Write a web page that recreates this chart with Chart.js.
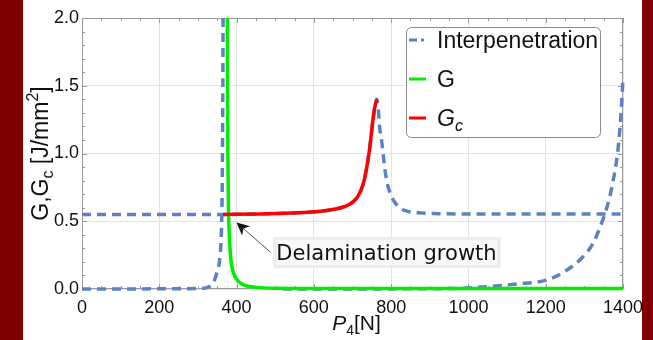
<!DOCTYPE html>
<html>
<head>
<meta charset="utf-8">
<title>Energy release rate vs load</title>
<script src="https://cdn.jsdelivr.net/npm/chart.js"></script>
<style>
  body { margin: 0; background: #fff; }
  #wrap { width: 653px; height: 340px; }
</style>
</head>
<body>
<div id="wrap"><canvas id="chart" width="653" height="340"></canvas></div>
<script>
  // Interpenetration: three branches, drawn as one dashed series with gaps between them
  const interpLowP  = [0, 300, 323, 340, 349, 357, 361, 363, 364.5, 365.5];
  const interpLowG  = [0, 0.003, 0.01, 0.05, 0.12, 0.24, 0.45, 0.8, 1.5, 2.5];
  const interpPeakP = [0, 365, 460, 560, 610, 645, 670, 688, 702, 713, 722, 730, 737, 745, 753, 759, 763, 766, 770, 776, 784, 790, 797, 805, 815, 828, 841, 870, 920, 1000, 1400];
  const interpPeakG = [0.55, 0.55, 0.554, 0.562, 0.572, 0.585, 0.6, 0.618, 0.645, 0.68, 0.73, 0.8, 0.9, 1.05, 1.25, 1.36, 1.4, 1.35, 1.2, 1.08, 0.88, 0.78, 0.71, 0.66, 0.62, 0.59, 0.575, 0.562, 0.556, 0.554, 0.553];
  const interpHighP = [520, 950, 996, 1060, 1134, 1203, 1255, 1297, 1323, 1345, 1358, 1371, 1387, 1395, 1400];
  const interpHighG = [0, 0.003, 0.007, 0.02, 0.04, 0.066, 0.14, 0.24, 0.34, 0.49, 0.6, 0.75, 1.03, 1.3, 1.55];

  // G
  const gP = [375.5, 376.5, 377.5, 379, 381, 383, 386, 390, 396, 405, 415, 430, 450, 500, 600, 1400];
  const gG = [2.5, 1.6, 1.0, 0.6, 0.42, 0.3, 0.2, 0.14, 0.09, 0.055, 0.035, 0.02, 0.012, 0.006, 0.004, 0.003];

  // Gc
  const gcP = [365, 460, 560, 610, 645, 670, 688, 702, 713, 722, 730, 737, 745, 753, 759, 763];
  const gcG = [0.55, 0.554, 0.562, 0.572, 0.585, 0.6, 0.618, 0.645, 0.68, 0.73, 0.8, 0.9, 1.05, 1.25, 1.36, 1.4];

  const xTickStep = 200, xMinorStep = 50;
  const yTickStep = 0.5, yMinorStep = 0.1;

  // annotation anchors, in data units
  const noteText = 'Delamination growth';
  const noteAt = { p: 503, g: 0.265 };
  const arrowTip = { p: 400, g: 0.49 };

  function pts(xs, ys) {
    return xs.map((x, i) => ({ x: x, y: ys[i] }));
  }
  function gap(xs) {
    return { x: xs[xs.length - 1], y: null };
  }

  const interpData = [].concat(
    pts(interpLowP, interpLowG), [gap(interpLowP)],
    pts(interpPeakP, interpPeakG), [gap(interpPeakP)],
    pts(interpHighP, interpHighG)
  );

  const BLUE = '#5b83c4', GREEN = '#00ee00', RED = '#ff0000';
  const FRAME = '#9a9a9a';
  const SANS = '"Liberation Sans", Arial, sans-serif';

  // draw text made of runs: {t, size, italic, shift}
  function runsWidth(ctx, runs) {
    let w = 0;
    runs.forEach(r => {
      ctx.font = (r.italic ? 'italic ' : '') + r.size + 'px ' + SANS;
      w += ctx.measureText(r.t).width;
    });
    return w;
  }
  function drawRuns(ctx, runs, x, y) {
    runs.forEach(r => {
      ctx.font = (r.italic ? 'italic ' : '') + r.size + 'px ' + SANS;
      ctx.fillText(r.t, x, y + (r.shift || 0));
      x += ctx.measureText(r.t).width;
    });
  }

  const pagePlugin = {
    id: 'page',
    beforeDraw(chart) {
      const ctx = chart.ctx;
      ctx.save();
      ctx.fillStyle = '#fff';
      ctx.fillRect(0, 0, chart.width, chart.height);
      ctx.fillStyle = '#800000';
      ctx.fillRect(0, 0, 23, chart.height);
      ctx.fillRect(642, 0, chart.width - 642, chart.height);
      ctx.restore();
    }
  };

  // Mathematica style frame with ticks on all four sides
  const framePlugin = {
    id: 'frame',
    beforeDatasetsDraw(chart) {
      const ctx = chart.ctx, a = chart.chartArea;
      const xs = chart.scales.x, ys = chart.scales.y;
      ctx.save();
      ctx.strokeStyle = FRAME;
      ctx.lineWidth = 1;
      ctx.strokeRect(a.left + 0.5, a.top + 0.5, a.right - a.left - 1, a.bottom - a.top - 1);
      ctx.beginPath();
      for (let v = xs.min; v <= xs.max + 1e-9; v += xMinorStep) {
        const px = Math.round(xs.getPixelForValue(v)) + 0.5;
        const len = (Math.abs(v / xTickStep - Math.round(v / xTickStep)) < 1e-6) ? 5 : 3;
        ctx.moveTo(px, a.bottom); ctx.lineTo(px, a.bottom - len);
        ctx.moveTo(px, a.top); ctx.lineTo(px, a.top + len);
      }
      for (let v = ys.min; v <= ys.max + 1e-9; v += yMinorStep) {
        const py = Math.round(ys.getPixelForValue(v)) + 0.5;
        const len = (Math.abs(v / yTickStep - Math.round(v / yTickStep)) < 1e-6) ? 5 : 3;
        ctx.moveTo(a.left, py); ctx.lineTo(a.left + len, py);
        ctx.moveTo(a.right, py); ctx.lineTo(a.right - len, py);
      }
      ctx.stroke();
      ctx.restore();
    }
  };

  const overlayPlugin = {
    id: 'overlay',
    afterDraw(chart) {
      const ctx = chart.ctx, a = chart.chartArea;
      const xs = chart.scales.x, ys = chart.scales.y;
      ctx.save();
      ctx.fillStyle = '#111';
      ctx.textBaseline = 'alphabetic';

      // axis titles
      const xTitle = [
        { t: 'P', size: 21, italic: true },
        { t: '4', size: 14, shift: 5 },
        { t: '[N]', size: 21 }
      ];
      drawRuns(ctx, xTitle, (a.left + a.right) / 2 - runsWidth(ctx, xTitle) / 2 + 4, 330);

      const yTitle = [
        { t: 'G,G', size: 23 },
        { t: 'c', size: 16, shift: 5 },
        { t: ' [J/mm', size: 23 },
        { t: '2', size: 16, shift: -10 },
        { t: ']', size: 23 }
      ];
      ctx.save();
      ctx.translate(48, (a.top + a.bottom) / 2);
      ctx.rotate(-Math.PI / 2);
      drawRuns(ctx, yTitle, -runsWidth(ctx, yTitle) / 2, 0);
      ctx.restore();

      // legend box inside the plot
      const lx = 406, ly = 27, lw = 194, lh = 110;
      ctx.beginPath();
      ctx.roundRect(lx + 0.5, ly + 0.5, lw, lh, 5);
      ctx.fillStyle = '#fff';
      ctx.fill();
      ctx.strokeStyle = '#8a8a8a';
      ctx.lineWidth = 1;
      ctx.stroke();
      const rows = [
        { ds: 0, y: 40, runs: [{ t: 'Interpenetration', size: 23 }] },
        { ds: 1, y: 79, runs: [{ t: 'G', size: 23 }] },
        { ds: 2, y: 118, runs: [{ t: 'G', size: 23, italic: true }, { t: 'c', size: 16, italic: true, shift: 5 }] }
      ];
      rows.forEach(r => {
        const ds = chart.data.datasets[r.ds];
        ctx.strokeStyle = ds.borderColor;
        ctx.lineWidth = 3;
        ctx.setLineDash(ds.borderDash ? [8, 4, 3, 20] : []);
        ctx.beginPath();
        ctx.moveTo(409, r.y);
        ctx.lineTo(426, r.y);
        ctx.stroke();
        ctx.setLineDash([]);
        ctx.fillStyle = '#111';
        drawRuns(ctx, r.runs, 437, r.y + 8);
      });

      // annotation with arrow
      const tx = xs.getPixelForValue(noteAt.p), ty = ys.getPixelForValue(noteAt.g);
      const hx = xs.getPixelForValue(arrowTip.p), hy = ys.getPixelForValue(arrowTip.g);
      ctx.font = '21px "DejaVu Sans", sans-serif';
      const tw = ctx.measureText(noteText).width;
      ctx.fillStyle = 'rgba(248,248,248,0.95)';
      ctx.fillRect(tx - 2, ty - 15, tw + 5, 29);
      ctx.strokeStyle = '#ececec';
      ctx.strokeRect(tx - 1.5, ty - 14.5, tw + 4, 28);
      ctx.fillStyle = '#111';
      ctx.textBaseline = 'middle';
      ctx.fillText(noteText, tx, ty + 1);

      const sx = tx - 6, sy = ty - 1;
      const ang = Math.atan2(hy - sy, hx - sx);
      ctx.strokeStyle = '#555';
      ctx.lineWidth = 1;
      ctx.beginPath();
      ctx.moveTo(sx, sy);
      ctx.lineTo(hx - Math.cos(ang) * 8, hy - Math.sin(ang) * 8);
      ctx.stroke();
      ctx.fillStyle = '#111';
      ctx.beginPath();
      ctx.moveTo(hx, hy);
      ctx.lineTo(hx - Math.cos(ang - 0.45) * 14, hy - Math.sin(ang - 0.45) * 14);
      ctx.lineTo(hx - Math.cos(ang) * 9, hy - Math.sin(ang) * 9);
      ctx.lineTo(hx - Math.cos(ang + 0.45) * 14, hy - Math.sin(ang + 0.45) * 14);
      ctx.closePath();
      ctx.fill();
      ctx.restore();
    }
  };

  const lineStyle = {
    pointRadius: 0,
    borderWidth: 3.5,
    cubicInterpolationMode: 'monotone',
    spanGaps: false,
    clip: { left: 0, top: 0, right: 2, bottom: 3 }
  };

  new Chart(document.getElementById('chart').getContext('2d'), {
    type: 'line',
    data: {
      datasets: [
        Object.assign({ label: 'Interpenetration', data: interpData, borderColor: BLUE, borderDash: [9, 6], order: 3 }, lineStyle),
        Object.assign({ label: 'G', data: pts(gP, gG), borderColor: GREEN, order: 2 }, lineStyle),
        Object.assign({ label: 'Gc', data: pts(gcP, gcG), borderColor: RED, order: 1 }, lineStyle)
      ]
    },
    options: {
      responsive: false,
      devicePixelRatio: 1,
      animation: false,
      layout: { padding: { left: 0, top: 18, right: 30, bottom: 0 } },
      plugins: { legend: { display: false }, tooltip: { enabled: false } },
      scales: {
        x: {
          type: 'linear', min: 0, max: 1400,
          afterFit(s) { s.height = 51; },
          grid: { color: '#e3e3e3', drawTicks: false },
          border: { display: false },
          ticks: { stepSize: xTickStep, padding: 8, color: '#111', font: { size: 18, family: SANS }, maxRotation: 0,
                   callback: v => String(v) }
        },
        y: {
          min: 0, max: 2,
          afterFit(s) { s.width = 82; },
          grid: { color: '#e3e3e3', drawTicks: false },
          border: { display: false },
          ticks: { stepSize: yTickStep, padding: 3, color: '#111', font: { size: 18, family: SANS },
                   callback: v => v.toFixed(1) }
        }
      }
    },
    plugins: [pagePlugin, framePlugin, overlayPlugin]
  });
</script>
</body>
</html>
